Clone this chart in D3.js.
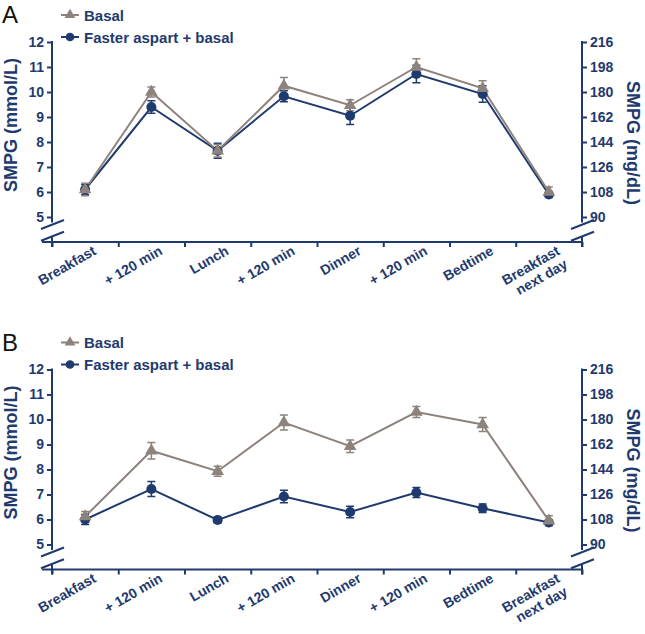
<!DOCTYPE html>
<html><head><meta charset="utf-8">
<script src="https://cdn.jsdelivr.net/npm/d3@7"></script>
<style>
html,body{margin:0;padding:0;background:#fff;}
text{font-family:"Liberation Sans",Arial,Helvetica,sans-serif;}
</style></head>
<body>
<svg id="chart" width="645" height="634"></svg>
<script>
// ---- Data ----
const categories = ["Breakfast", "+ 120 min", "Lunch", "+ 120 min", "Dinner", "+ 120 min", "Bedtime", "Breakfast\nnext day"];
const seriesNames = ["Basal", "Faster aspart + basal"];
const panelLabels = ["A", "B"];
// Panel A (mmol/L)
const basalA      = [6.1, 10.0, 7.65, 10.25, 9.47, 11.0, 10.15, 6.0];
const basalA_se   = [0.25, 0.2, 0.25, 0.33, 0.22, 0.33, 0.3, 0.2];
const fasterA     = [6.1, 9.4, 7.65, 9.83, 9.05, 10.72, 9.92, 5.9];
const fasterA_se  = [0.2, 0.25, 0.3, 0.22, 0.35, 0.35, 0.33, 0.12];
// Panel B (mmol/L)
const basalB      = [6.12, 8.75, 7.93, 9.88, 8.93, 10.3, 9.8, 5.95];
const basalB_se   = [0.2, 0.33, 0.2, 0.3, 0.25, 0.22, 0.28, 0.2];
const fasterB     = [6.0, 7.22, 5.98, 6.92, 6.3, 7.08, 6.45, 5.88];
const fasterB_se  = [0.2, 0.3, 0.12, 0.25, 0.23, 0.2, 0.17, 0.1];
// Tick values
const mmolTicks = [5, 6, 7, 8, 9, 10, 11, 12];
const mgdlTicks = [90, 108, 126, 144, 162, 180, 198, 216];

const NAVY = "#1f3a6e", GRAY = "#8e827d";
const svg = d3.select("#chart");

const panels = [
  {label: panelLabels[0], basal: basalA, basalSe: basalA_se, faster: fasterA, fasterSe: fasterA_se, oy: 0},
  {label: panelLabels[1], basal: basalB, basalSe: basalB_se, faster: fasterB, fasterSe: fasterB_se, oy: 327.5}
];

const X0 = 52, X1 = 582;

panels.forEach(p => {
  const g = svg.append("g").attr("transform", `translate(0,${p.oy})`);
  const y = d3.scaleLinear().domain([4, 12]).range([242, 42]);
  const y2 = d3.scaleLinear().domain([72, 216]).range([242, 42]);
  const xb = d3.scaleBand().domain(d3.range(categories.length)).range([X0, X1]).padding(0);
  const xe = d3.scaleLinear().domain([0, categories.length]).range([X0, X1]);
  const cx = i => xb(i) + xb.bandwidth() / 2;

  // panel label
  g.append("text").attr("x", 2).attr("y", 23).attr("font-size", 24).attr("fill", "#111").text(p.label);

  // legend
  const leg = [{name: seriesNames[0], color: GRAY, sym: d3.symbolTriangle, y: 15},
               {name: seriesNames[1], color: NAVY, sym: d3.symbolCircle, y: 37}];
  leg.forEach(l => {
    g.append("line").attr("x1", 61).attr("x2", 79).attr("y1", l.y).attr("y2", l.y)
      .attr("stroke", l.color).attr("stroke-width", 2);
    g.append("path").attr("d", d3.symbol(l.sym, l.sym === d3.symbolCircle ? 60 : 50)())
      .attr("transform", `translate(70,${l.y})`).attr("fill", l.color);
    g.append("text").attr("x", 84).attr("y", l.y + 5.5).attr("font-size", 15).attr("font-weight", "bold")
      .attr("fill", NAVY).text(l.name);
  });

  // left axis
  const la = g.append("g").attr("transform", `translate(${X0},0)`)
    .call(d3.axisLeft(y).tickValues(mmolTicks).tickSize(5).tickPadding(3));
  la.select(".domain").remove();
  la.selectAll("line").attr("stroke", NAVY).attr("stroke-width", 2);
  la.selectAll("text").attr("font-size", 14).attr("font-weight", "bold").attr("fill", NAVY)
    .attr("font-family", "Liberation Sans, Arial, sans-serif");
  // right axis
  const ra = g.append("g").attr("transform", `translate(${X1},0)`)
    .call(d3.axisRight(y2).tickValues(mgdlTicks).tickSize(5).tickPadding(3));
  ra.select(".domain").remove();
  ra.selectAll("line").attr("stroke", NAVY).attr("stroke-width", 2);
  ra.selectAll("text").attr("font-size", 14).attr("font-weight", "bold").attr("fill", NAVY)
    .attr("font-family", "Liberation Sans, Arial, sans-serif");

  // axis lines with breaks
  [X0, X1].forEach(ax => {
    g.append("line").attr("x1", ax).attr("x2", ax).attr("y1", y(12) - 1).attr("y2", y(4.78))
      .attr("stroke", NAVY).attr("stroke-width", 2);
    g.append("line").attr("x1", ax).attr("x2", ax).attr("y1", y(4.2)).attr("y2", y(4) + 5)
      .attr("stroke", NAVY).attr("stroke-width", 2);
    [4.7, 4.23].forEach(v => {
      g.append("line").attr("x1", ax - 11).attr("x2", ax + 12)
        .attr("y1", y(v) + 4.5).attr("y2", y(v) - 4.5)
        .attr("stroke", NAVY).attr("stroke-width", 2);
    });
  });

  // bottom axis
  const ba = g.append("g").attr("transform", `translate(0,${y(4)})`)
    .call(d3.axisBottom(xe).tickValues(d3.range(categories.length + 1)).tickSize(5).tickFormat(""));
  ba.select(".domain").attr("stroke", NAVY).attr("stroke-width", 2).attr("d", `M${X0 - 10},0H${X1}`);
  ba.selectAll("line").attr("stroke", NAVY).attr("stroke-width", 2);

  // x labels
  categories.forEach((c, i) => {
    const lines = c.split("\n");
    const t = g.append("text")
      .attr("transform", `translate(${cx(i) + 7},${y(4) + 3}) rotate(-30)`)
      .attr("text-anchor", "end").attr("font-size", 14).attr("font-weight", "bold").attr("fill", NAVY);
    lines.forEach((ln, k) => {
      t.append("tspan").attr("x", 0).attr("dy", k === 0 ? "0.71em" : "1.1em").text(ln);
    });
  });

  // axis titles
  g.append("text").attr("transform", `translate(17,125) rotate(-90)`).attr("text-anchor", "middle")
    .attr("font-size", 18).attr("font-weight", "bold").attr("fill", NAVY).text("SMPG (mmol/L)");
  g.append("text").attr("transform", `translate(627,143) rotate(90)`).attr("text-anchor", "middle")
    .attr("font-size", 18).attr("font-weight", "bold").attr("fill", NAVY).text("SMPG (mg/dL)");

  // series
  const line = d3.line().x((d, i) => cx(i)).y(d => y(d));
  const series = [
    {vals: p.faster, se: p.fasterSe, color: NAVY, sym: d3.symbolCircle, size: 80},
    {vals: p.basal, se: p.basalSe, color: GRAY, sym: d3.symbolTriangle, size: 70}
  ];
  series.forEach(s => {
    g.append("path").datum(s.vals).attr("d", line).attr("fill", "none")
      .attr("stroke", s.color).attr("stroke-width", 2);
  });
  series.forEach(s => {
    s.vals.forEach((v, i) => {
      const x = cx(i);
      const eb = g.append("g").attr("stroke", s.color).attr("stroke-width", 1.5);
      eb.append("line").attr("x1", x).attr("x2", x).attr("y1", y(v - s.se[i])).attr("y2", y(v + s.se[i]));
      eb.append("line").attr("x1", x - 4).attr("x2", x + 4).attr("y1", y(v - s.se[i])).attr("y2", y(v - s.se[i]));
      eb.append("line").attr("x1", x - 4).attr("x2", x + 4).attr("y1", y(v + s.se[i])).attr("y2", y(v + s.se[i]));
    });
  });
  series.forEach(s => {
    s.vals.forEach((v, i) => {
      g.append("path").attr("d", d3.symbol(s.sym, s.size)())
        .attr("transform", `translate(${cx(i)},${y(v)})`).attr("fill", s.color);
    });
  });
});
</script>
</body></html>
